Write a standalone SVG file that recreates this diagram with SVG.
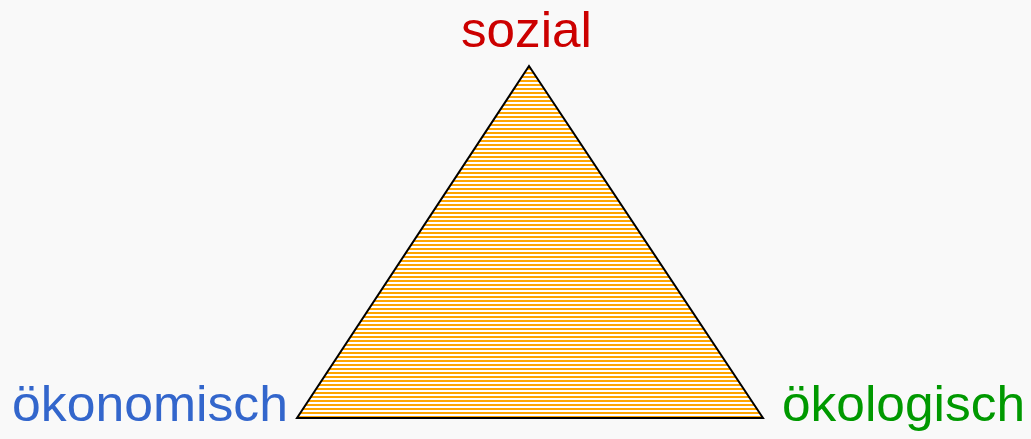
<svg xmlns="http://www.w3.org/2000/svg" width="1031" height="439" viewBox="0 0 1031 439">
<defs>
<pattern id="stripes" patternUnits="userSpaceOnUse" x="0" y="0" width="8" height="4">
<rect width="8" height="4" fill="#ffffff"/>
<rect y="0" width="8" height="2" fill="#ffa500"/>
</pattern>
<style>
.lbl{font-family:"Liberation Sans",Arial,sans-serif;font-size:50px}
</style>
</defs>
<rect width="1031" height="439" fill="#f9f9f9"/>
<g id="triangle">
<polygon points="529,66 297,418 763,418" fill="url(#stripes)" stroke="#000" stroke-width="2" stroke-linejoin="miter"/>
</g>
<g id="sozial"><text class="lbl" x="461" y="47" fill="#cc0000" textLength="131" lengthAdjust="spacingAndGlyphs">sozial</text></g>
<g id="oekonomisch"><text class="lbl" x="12" y="421" fill="#3366cc" textLength="276" lengthAdjust="spacingAndGlyphs">ökonomisch</text></g>
<g id="oekologisch"><text class="lbl" x="782" y="421" fill="#009900" textLength="243" lengthAdjust="spacingAndGlyphs">ökologisch</text></g>
<g id="connectors"></g>
</svg>
